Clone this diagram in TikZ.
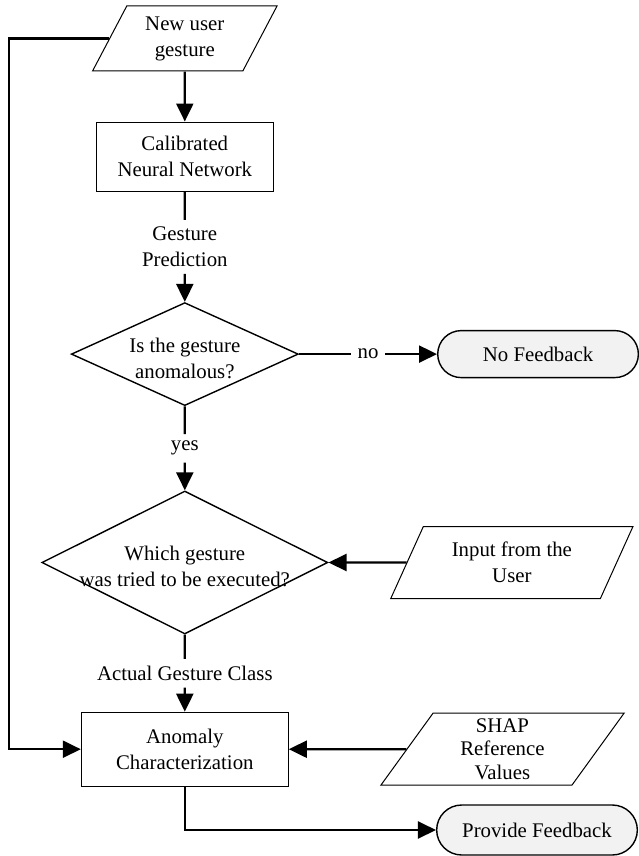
\documentclass[tikz,border=0pt]{standalone}
\usepackage{fontspec}
\setmainfont{Liberation Serif}
\usepackage{tikz}
\usetikzlibrary{positioning,arrows.meta,shapes.geometric,shapes.misc,calc}

\begin{document}
\begin{tikzpicture}[
		font=\fontsize{10.4}{13}\selectfont,
		iobox/.style={
			draw,
			trapezium,
			trapezium left angle=63,
			trapezium right angle=117,
			trapezium stretches=true,
			align=center,
			inner sep=1pt,
			line width=0.5pt
		},
		process/.style={
			draw,
			align=center,
			line width=0.7pt
		},
		decision/.style={
			draw,
			diamond,
			inner sep=0pt,
			line width=0.7pt
		},
		terminal/.style={
			draw,
			rounded rectangle,
			fill=black!5,
			minimum width=107pt,
			minimum height=23.5pt,
			line width=0.7pt
		},
		flowlabel/.style={align=center},
		arrow/.style={-{Triangle[length=9pt,width=8.5pt]}, line width=1.1pt},
		link/.style={line width=1.1pt}
		]
		
		\useasboundingbox (0,0) rectangle (319pt,-428pt);
		
		% Main column
		\node[iobox, minimum width=92.5pt, minimum height=32.5pt] (newgesture) at (92.4pt,-19.25pt) {
			New user\\
			gesture
		};
		
		\node[process, below=25pt of newgesture, minimum width=88.5pt, minimum height=34.5pt] (network) {
			Calibrated\\
			Neural Network
		};
		
		\node[decision, below=55pt of network, minimum width=113.5pt, minimum height=51.5pt,
			label={[flowlabel, yshift=-2pt]center:Is the gesture\\anomalous?}] (anomalous) {};
		
		\node[decision, below=42pt of anomalous, minimum width=143pt, minimum height=71.5pt,
			label={[flowlabel, yshift=-2pt]center:Which gesture\\was tried to be executed?}] (tried) {};
		
		\node[process, below=38.5pt of tried, minimum width=103.5pt, minimum height=37pt, line width=0.5pt] (charact) {
			Anomaly\\
			Characterization
		};
		
		% Side inputs and outputs
		\node[terminal, right=69pt of anomalous] (nofeedback) {No Feedback};
		
		\node[iobox, right=39pt of tried, minimum width=122pt, minimum height=36pt] (userinput) {
			Input from the\\
			User
		};
		
		\node[iobox, right=58.75pt of charact, minimum width=122pt, minimum height=36pt] (shap) {
			SHAP\\[-1.25pt]
			Reference\\[-1.25pt]
			Values
		};
		
		\node[terminal, minimum height=25pt] (providefb) at (268.5pt,-415pt) {Provide Feedback};
		
		% Connector labels
		\node[flowlabel] (prediction) at ($(network.south)!0.5!(anomalous.north)$) {Gesture\\Prediction};
		\node[flowlabel] (yes) at ($(anomalous.south)!0.5!(tried.north)$) {yes};
		\node[flowlabel] (actual) at ($(tried.south)!0.5!(charact.north)$) {Actual Gesture Class};
		\node[flowlabel] (no) at ($(anomalous.east)!0.5!(nofeedback.west)$) {no};
		
		\coordinate (loop) at (4.5pt,0pt);
		
		% Arrows
		\draw[arrow] (newgesture) -- (network);
		\draw[link] (network) -- (prediction);
		\draw[arrow] (prediction) -- (anomalous);
		\draw[link] (anomalous) -- (yes);
		\draw[arrow] (yes) -- (tried);
		\draw[link] (tried) -- (actual);
		\draw[arrow] (actual) -- (charact);
		\draw[link] (anomalous) -- (no);
		\draw[arrow] (no) -- (nofeedback);
		\draw[arrow] (userinput) -- (tried);
		\draw[arrow] (shap) -- (charact);
		\draw[arrow] (charact) |- (providefb);
		\draw[arrow] (newgesture.west) -- (newgesture.west -| loop) |- (charact.west);
		
	\end{tikzpicture}
\end{document}
